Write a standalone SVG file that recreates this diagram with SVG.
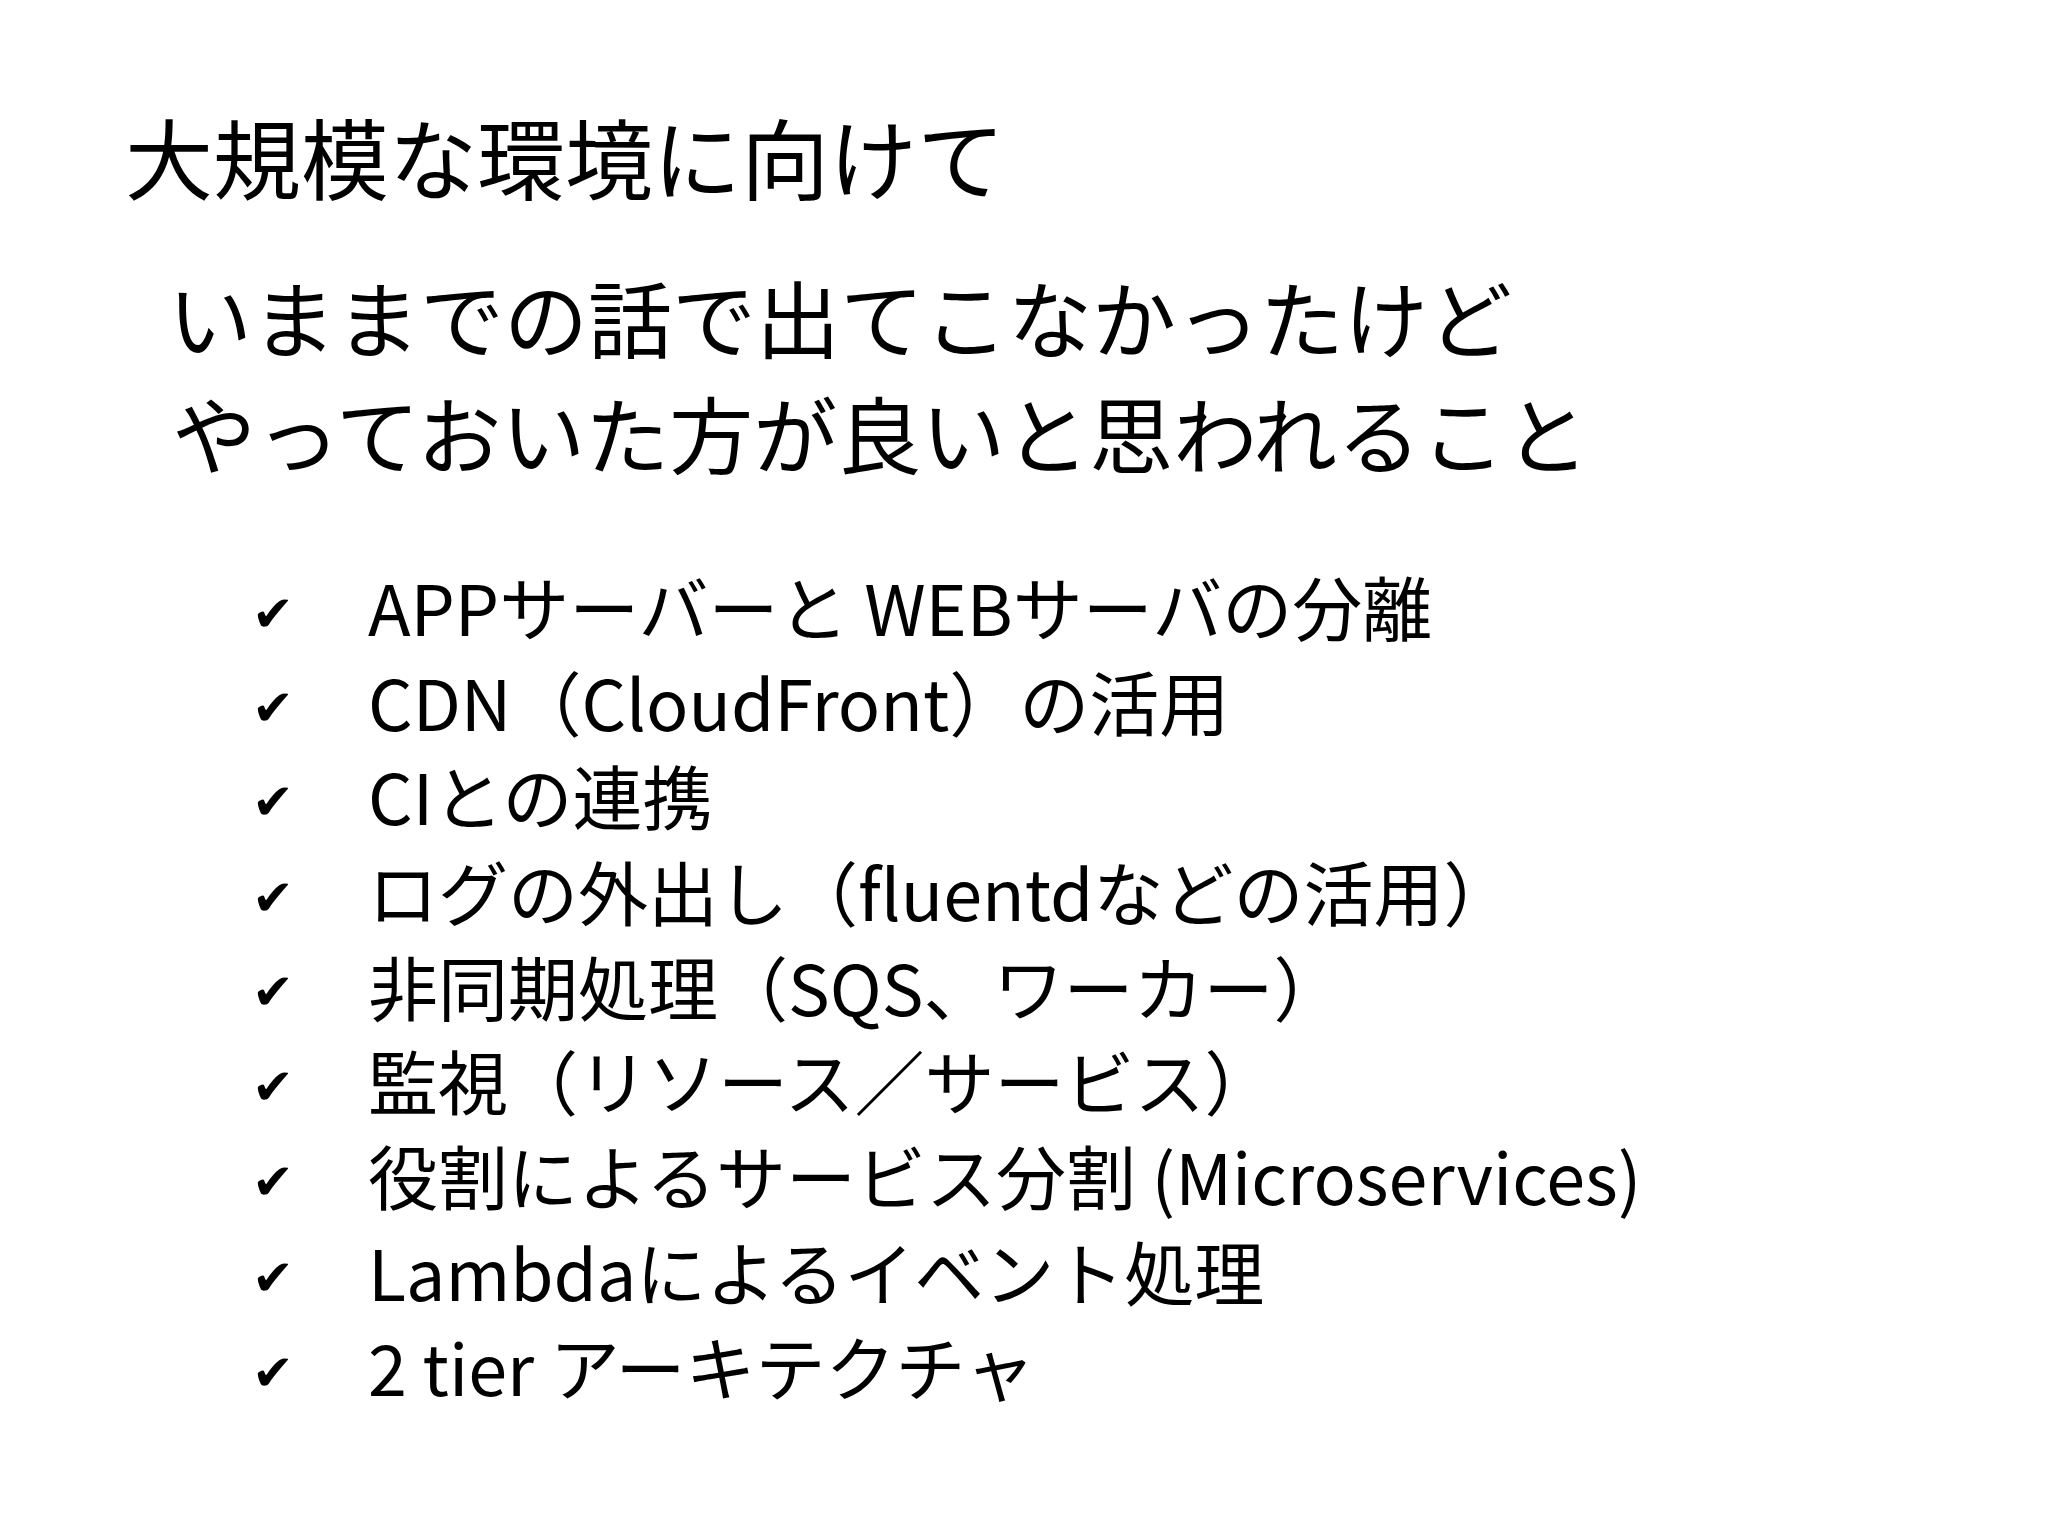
<svg xmlns="http://www.w3.org/2000/svg" width="2048" height="1536" viewBox="0 0 2048 1536">
<style>
text{font-family:"Noto Sans CJK JP","Noto Sans",sans-serif;fill:#000}
.t{font-size:88px}
.s{font-size:84px}
.i{font-size:70px}
.c{font-family:"DejaVu Sans",sans-serif;font-size:50px}
</style>
<rect width="2048" height="1536" fill="#fff"/>
<text class="t" x="125" y="193">大規模な環境に向けて</text>
<text class="s" x="168" y="352">いままでの話で出てこなかったけど</text>
<text class="s" x="172" y="468">やっておいた方が良いと思われること</text>
<g>
<text class="c" x="252" y="631">✔</text>
<text class="c" x="252" y="725">✔</text>
<text class="c" x="252" y="819">✔</text>
<text class="c" x="252" y="915">✔</text>
<text class="c" x="252" y="1009">✔</text>
<text class="c" x="252" y="1104">✔</text>
<text class="c" x="252" y="1199">✔</text>
<text class="c" x="252" y="1295">✔</text>
<text class="c" x="252" y="1390">✔</text>
</g>
<text class="i" x="368" y="636">APPサーバーと WEBサーバの分離</text>
<text class="i" x="368" y="731">CDN（CloudFront）の活用</text>
<text class="i" x="368" y="825">CIとの連携</text>
<text class="i" x="368" y="921">ログの外出し（fluentdなどの活用）</text>
<text class="i" x="368" y="1016">非同期処理（SQS、ワーカー）</text>
<text class="i" x="368" y="1110">監視（リソース／サービス）</text>
<text class="i" x="368" y="1205">役割によるサービス分割 (Microservices)</text>
<text class="i" x="368" y="1301">Lambdaによるイベント処理</text>
<text class="i" x="368" y="1396">2 tier アーキテクチャ</text>
</svg>
